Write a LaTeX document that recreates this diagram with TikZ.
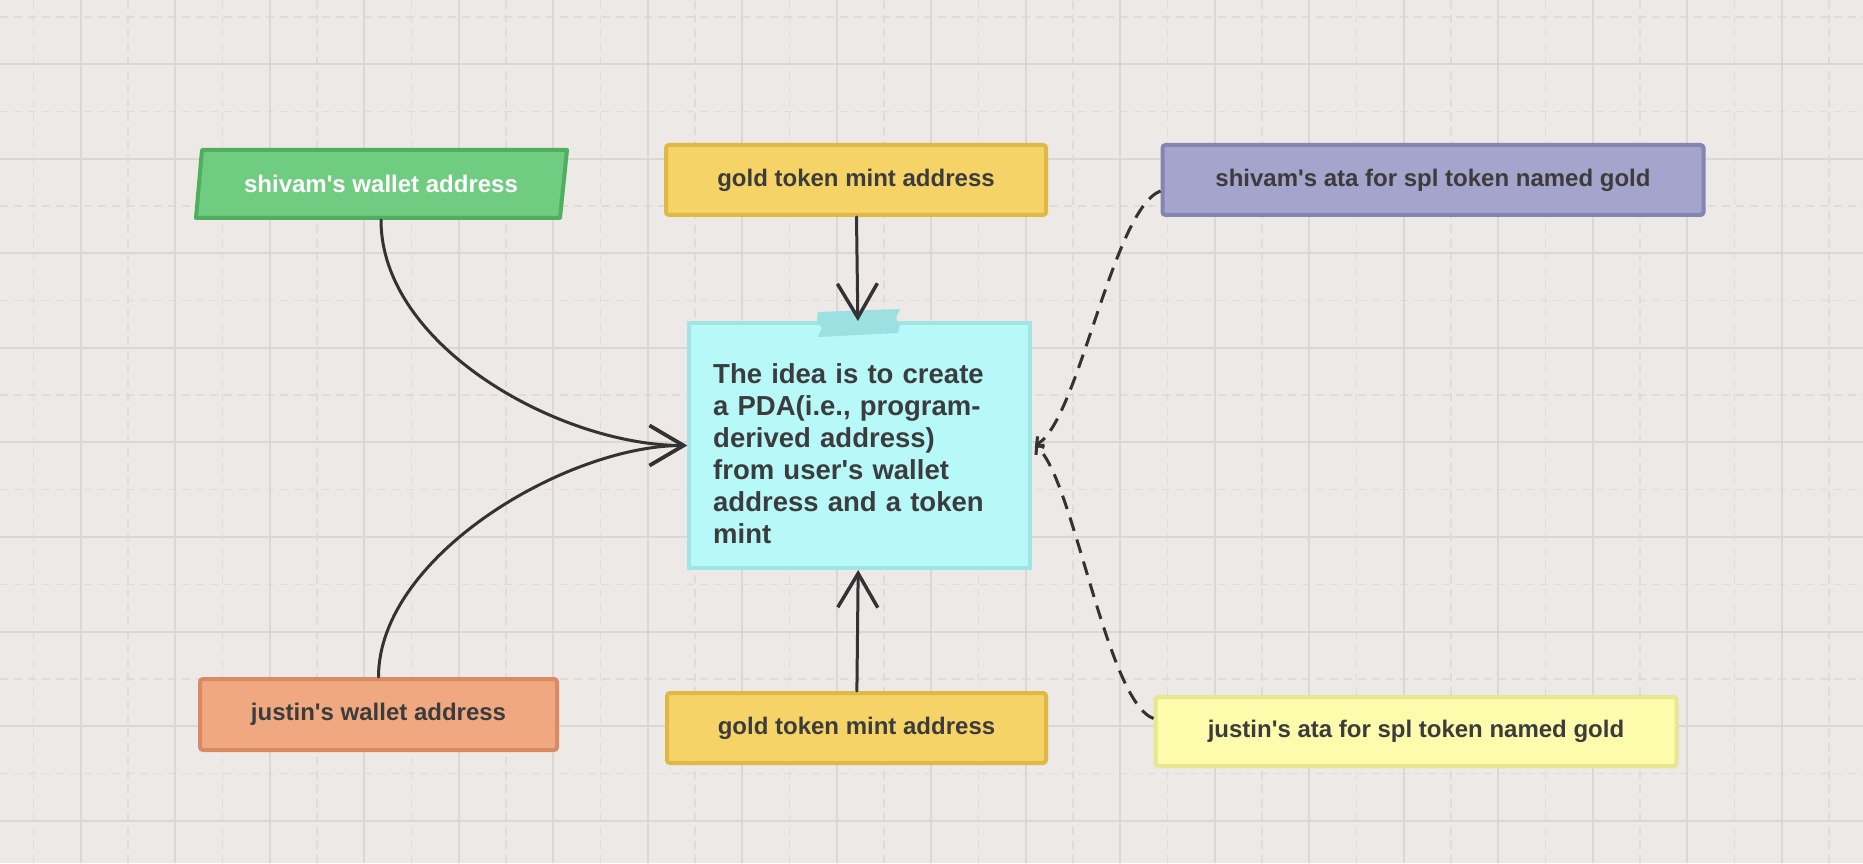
\documentclass[tikz,border=0pt]{standalone}
\usepackage{fontspec}
\setmainfont{Liberation Sans}[Ligatures=TeXOff]
\usetikzlibrary{arrows.meta,positioning}
\definecolor{bgc}{HTML}{ECE9E6}
\definecolor{gridc}{HTML}{DAD7D4}
\definecolor{gridd}{HTML}{DEDBD8}
\definecolor{inkc}{HTML}{333333}
\definecolor{txtc}{HTML}{3C3C3C}
\definecolor{greenf}{HTML}{70CC80}
\definecolor{greenb}{HTML}{4FAF5F}
\definecolor{goldf}{HTML}{F5D366}
\definecolor{goldb}{HTML}{DFB845}
\definecolor{purplef}{HTML}{A4A4CD}
\definecolor{purpleb}{HTML}{8585B1}
\definecolor{cyanf}{HTML}{B6F9F8}
\definecolor{cyanb}{HTML}{A0E4E5}
\definecolor{tapec}{HTML}{9CE0E2}
\definecolor{orangef}{HTML}{F0A880}
\definecolor{orangeb}{HTML}{D98A62}
\definecolor{lightf}{HTML}{FCFCAC}
\definecolor{lightb}{HTML}{E8E690}

\begin{document}
\begin{tikzpicture}[x=1pt,y=1pt,
  box/.style={draw, line width=4pt, rounded corners=3pt, text=txtc,
    font=\fontsize{24}{28}\selectfont\bfseries},
  ideabox/.style={draw=cyanb, fill=cyanf, line width=4pt},
  ideatext/.style={inner sep=0pt, text=txtc, text width=300pt, align=left,
    font=\fontsize{27.5}{32}\selectfont\bfseries},
  solidarrow/.style={draw=inkc, line width=3pt, line cap=round,
    -{Straight Barb[length=34pt,width=40pt,line width=3.5pt]}},
  dasharrow/.style={draw=inkc, line width=3pt, dash pattern=on 14pt off 9pt,
    -{Straight Barb[length=5pt,width=13pt,line width=3pt]}}]
\useasboundingbox (0,0) rectangle (1863,863);
\fill[bgc] (0,0) rectangle (1863,863);
\foreach \k in {0,...,19}
  \draw[gridd, line width=1.5pt, dash pattern=on 8pt off 6pt] ({33.25+94.5*\k},0) -- ++(0,863);
\foreach \k in {0,...,9}
  \draw[gridd, line width=1.5pt, dash pattern=on 8pt off 6pt] (0,{845.75-94.5*\k}) -- ++(1863,0);
\foreach \k in {0,...,18}
  \draw[gridc, line width=2pt] ({80.5+94.5*\k},0) -- ++(0,863);
\foreach \k in {0,...,8}
  \draw[gridc, line width=2pt] (0,{798.5-94.5*\k}) -- ++(1863,0);

\draw[fill=greenf, draw=greenb, line width=4pt, line join=round] (202,713) -- (567,713) -- (560,645) -- (196,645) -- cycle;
\node[box, draw=none, text=white, minimum width=364pt, minimum height=68pt] (shivamWallet) at (381,679) {shivam's wallet address};
\node[box, fill=goldf, draw=goldb, minimum width=380pt, minimum height=70pt] (goldTop) at (856,683) {gold token mint address};
\node[box, fill=purplef, draw=purpleb, minimum width=541pt, minimum height=70pt] (shivamAta) at (1433,683) {shivam's ata for spl token named gold};
\node[box, fill=orangef, draw=orangeb, minimum width=357pt, minimum height=71pt] (justinWallet) at (378.5,148.5) {justin's wallet address};
\node[box, fill=goldf, draw=goldb, minimum width=379pt, minimum height=70pt] (goldBottom) at (856.5,135) {gold token mint address};
\node[box, fill=lightf, draw=lightb, minimum width=521pt, minimum height=69pt] (justinAta) at (1416,131.5) {justin's ata for spl token named gold};

\node[ideabox, minimum width=341pt, minimum height=245pt] (idea) at (859.5,417.5) {};
\fill[tapec] (818,551) -- (900,554) -- (896,545) -- (900,538) -- (898,530) -- (818,526) -- (822,535) -- (817,543) -- cycle;
\node[ideatext, anchor=north west] (ideaText) at ([xshift=26pt,yshift=-42pt]idea.north west)
  {The idea is to create\\ a PDA(i.e., program-\\ derived address)\\ from user's wallet\\ address and a token\\ mint};

\draw[solidarrow] (shivamWallet.south) to[out=-90,in=180,looseness=0.85] (idea.west);
\draw[solidarrow] (justinWallet.north) to[out=90,in=180,looseness=0.8] (idea.west);
\draw[solidarrow] (goldTop) -- (idea);
\draw[solidarrow] (goldBottom) -- (idea);
\draw[dasharrow] ([yshift=-11pt]shivamAta.west) to[out=201,in=31,looseness=0.46] ([xshift=3pt]idea.east);
\draw[dasharrow] ([yshift=13pt]justinAta.west) to[out=160,in=-40,looseness=0.43] ([xshift=3pt]idea.east);
\end{tikzpicture}
\end{document}
